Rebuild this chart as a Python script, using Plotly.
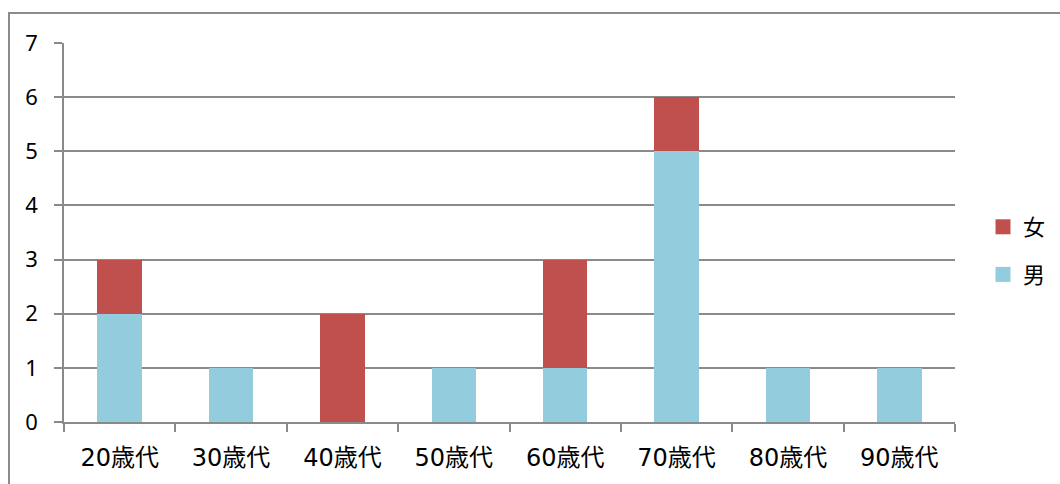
import plotly.graph_objects as go

categories = ["20歳代", "30歳代", "40歳代", "50歳代", "60歳代", "70歳代", "80歳代", "90歳代"]
male = [2, 1, 0, 1, 1, 5, 1, 1]
female = [1, 0, 2, 0, 2, 1, 0, 0]

FONT = "Noto Sans CJK JP"
XFONT = "DejaVu Sans, Noto Sans CJK JP"
GRID = "#8a8a8a"
C_M = "#93CDDD"
C_F = "#C0504D"

fig = go.Figure()
fig.add_trace(go.Bar(name="男", x=categories, y=male, marker=dict(color=C_M, line=dict(width=0)), showlegend=False))
fig.add_trace(go.Bar(name="女", x=categories, y=female, marker=dict(color=C_F, line=dict(width=0)), showlegend=False))
# legend entries
fig.add_trace(go.Scatter(name="女", x=[None], y=[None], mode="markers", legendgroup="f",
                         marker=dict(symbol="square", size=15, color=C_F, line=dict(width=0))))
fig.add_trace(go.Scatter(name="男", x=[None], y=[None], mode="markers", legendgroup="m",
                         marker=dict(symbol="square", size=15, color=C_M, line=dict(width=0))))

fig.update_layout(
    barmode="stack",
    bargap=0.6,
    width=1060, height=484,
    margin=dict(l=64, r=105, t=43, b=62, autoexpand=False),
    paper_bgcolor="white", plot_bgcolor="white",
    font=dict(family=FONT, color="black"),
    showlegend=True,
    legend=dict(
        traceorder="grouped", tracegroupgap=16,
        xref="container", yref="container",
        x=983 / 1060, xanchor="left", y=1 - 251 / 484, yanchor="middle",
        font=dict(size=22, family=FONT), bgcolor="rgba(0,0,0,0)",
        itemwidth=30,
    ),
    xaxis=dict(
        type="category", tickson="boundaries", ticks="outside", ticklen=8, tickwidth=1.5,
        tickcolor=GRID, showline=True, linecolor=GRID, linewidth=1.5, showgrid=False,
        tickfont=dict(size=24, family=XFONT), ticklabelstandoff=13,
    ),
    yaxis=dict(
        range=[0, 7], dtick=1, tick0=0, ticks="outside", ticklen=8, tickwidth=1.5,
        tickcolor=GRID, showline=True, linecolor=GRID, linewidth=1.5,
        showgrid=True, gridcolor=GRID, gridwidth=1.5, zeroline=False,
        tickfont=dict(size=22, family="Noto Sans"), ticklabelstandoff=12,
    ),
    shapes=[dict(
        type="rect", xref="paper", yref="paper", layer="above",
        x0=(9 - 64) / 891, x1=(1070 - 64) / 891,
        y0=(422 - 495) / 379, y1=(422 - 13) / 379,
        line=dict(color="#8c8c8c", width=2), fillcolor="rgba(0,0,0,0)",
    )],
)

fig.write_html("out.html")
